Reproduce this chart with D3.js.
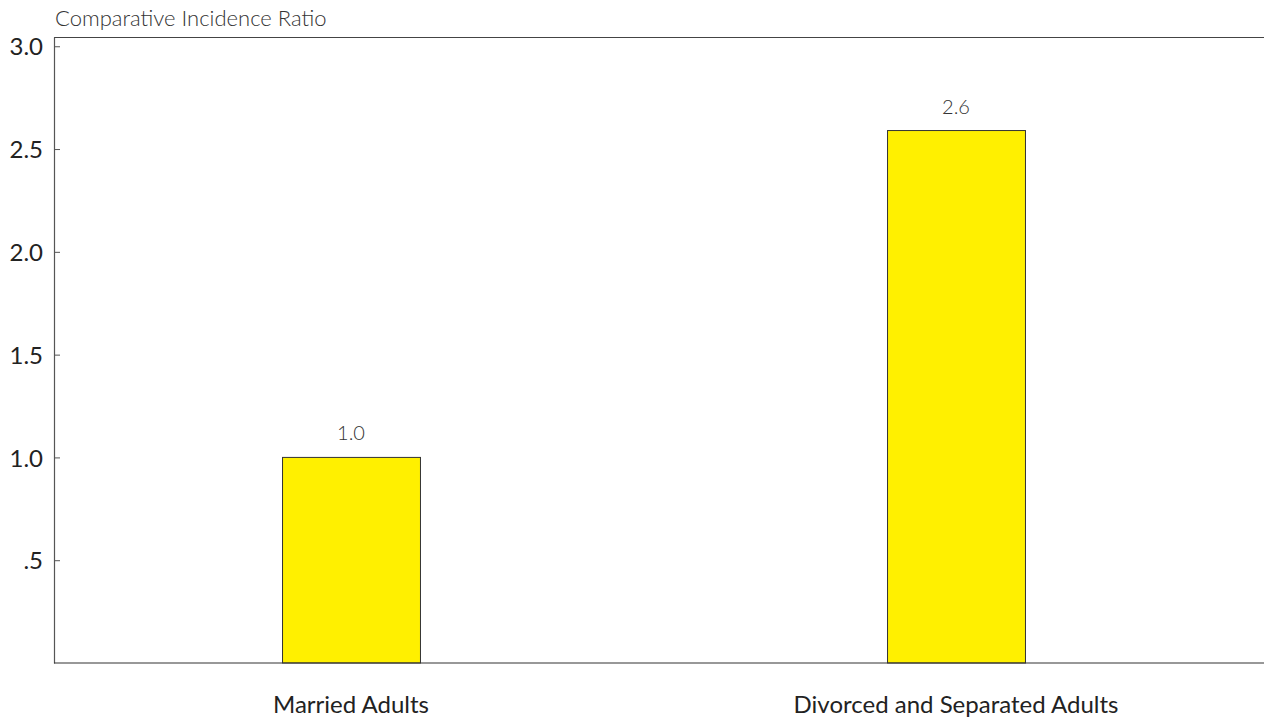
<!DOCTYPE html>
<html>
<head>
<meta charset="utf-8">
<script src="https://cdn.jsdelivr.net/npm/d3@7"></script>
<style>
  html, body { margin: 0; padding: 0; background: #fff; }
  svg { display: block; }
  text { font-family: Lato, "Open Sans", sans-serif; }
</style>
</head>
<body>
<svg id="chart" width="1264" height="719"></svg>
<script>
const categories = ["Married Adults", "Divorced and Separated Adults"];
const values = [1.0, 2.59];
const valueLabels = ["1.0", "2.6"];
const yTicks = [0.5, 1.0, 1.5, 2.0, 2.5, 3.0];
const yTickLabels = [".5", "1.0", "1.5", "2.0", "2.5", "3.0"];
const yTitle = "Comparative Incidence Ratio";

(function () {
const svg = d3.select("#chart");
const mLeft = 54, mTop = 37, mBottom = 663, mRight = 1264;

const y = d3.scaleLinear().domain([0, 3.045]).range([mBottom, mTop]);
const x = d3.scaleBand().domain(categories).range([48.5, 1258.5])
  .paddingInner(0.772).paddingOuter(0.386);

// top border
svg.append("line").attr("x1", mLeft).attr("x2", mRight).attr("y1", mTop + 0.5).attr("y2", mTop + 0.5)
  .attr("stroke", "#444").attr("stroke-width", 1.2);

// bars
svg.selectAll("rect.bar").data(values).join("rect")
  .attr("class", "bar")
  .attr("x", (d, i) => x(categories[i]) + 0.5)
  .attr("y", d => y(d))
  .attr("width", x.bandwidth())
  .attr("height", d => mBottom - y(d))
  .attr("fill", "#fff000")
  .attr("stroke", "#333")
  .attr("stroke-width", 1);

// y axis
const yAxis = d3.axisLeft(y).tickValues(yTicks)
  .tickFormat((d, i) => yTickLabels[i])
  .tickSizeInner(-6).tickSizeOuter(0).tickPadding(11);
const gy = svg.append("g").attr("transform", `translate(${mLeft},0)`).call(yAxis);
gy.select(".domain").attr("stroke", "#555").attr("stroke-width", 1.2);
gy.selectAll(".tick line").attr("stroke", "#555");
gy.selectAll(".tick text").attr("font-size", 24).attr("fill", "#222")
  .attr("font-family", "Lato, sans-serif").attr("dy", "0.36em");

// x axis
const xAxis = d3.axisBottom(x).tickSize(0).tickPadding(50);
const gx = svg.append("g").attr("transform", `translate(0,${mBottom})`).call(xAxis);
gx.select(".domain").remove();
svg.append("line").attr("x1", mLeft).attr("x2", mRight).attr("y1", mBottom).attr("y2", mBottom)
  .attr("stroke", "#333").attr("stroke-width", 1.2);
gx.selectAll(".tick text").attr("font-size", 24).attr("fill", "#222")
  .attr("font-family", "Lato, sans-serif").attr("dy", "0");

// value labels
svg.selectAll("text.val").data(values).join("text")
  .attr("class", "val")
  .attr("x", (d, i) => x(categories[i]) + x.bandwidth() / 2)
  .attr("y", d => y(d) - 17)
  .attr("text-anchor", "middle")
  .attr("font-size", 20)
  .attr("font-weight", 300)
  .attr("fill", "#333")
  .text((d, i) => valueLabels[i]);

// title
svg.append("text").attr("x", mLeft + 1).attr("y", 26)
  .attr("font-size", 22).attr("font-weight", 300).attr("fill", "#333")
  .text(yTitle);
})();
</script>
</body>
</html>
